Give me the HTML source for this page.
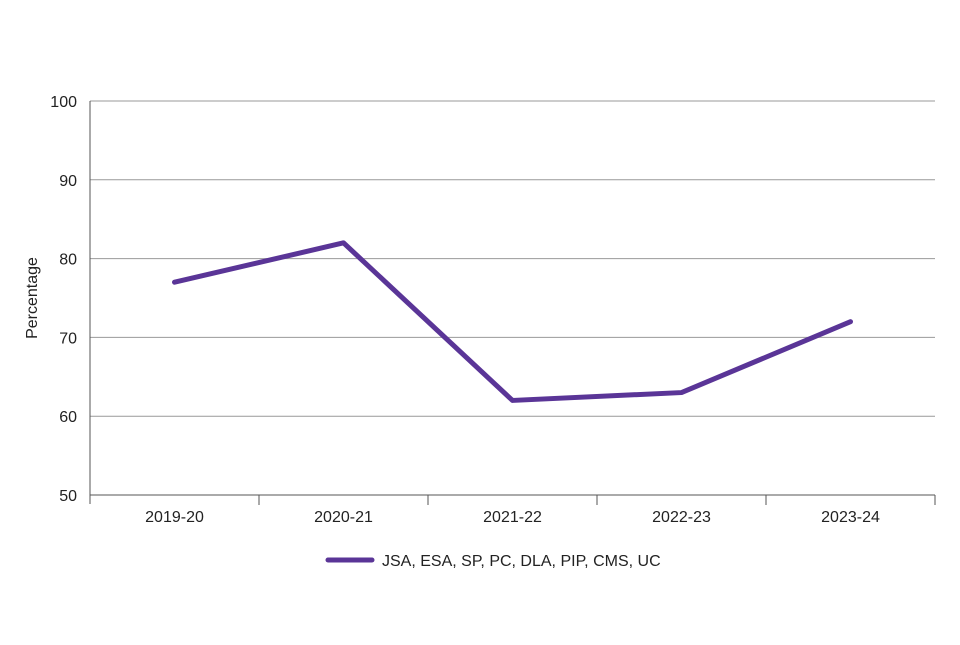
<!DOCTYPE html>
<html><head><meta charset="utf-8"><style>
html,body{margin:0;padding:0;background:#fff;}
svg text{font-family:"Liberation Sans",sans-serif;fill:#222;}
</style></head><body>
<svg id="chart" width="960" height="640" xmlns="http://www.w3.org/2000/svg">
<g id="grid"></g>
<g id="axes"></g>
<g id="series"></g>
<text transform="translate(37,298) rotate(-90)" text-anchor="middle" font-size="16">Percentage</text>
<g>
<line x1="328" y1="560" x2="372" y2="560" stroke="#5a3597" stroke-width="5" stroke-linecap="round"/>
<text x="382" y="566" font-size="16">JSA, ESA, SP, PC, DLA, PIP, CMS, UC</text>
</g>
</svg>
<script>
const categories=["2019-20","2020-21","2021-22","2022-23","2023-24"];
const values=[77,82,62,63,72];
const yTicks=[50,60,70,80,90,100];
const NS="http://www.w3.org/2000/svg";
const L=90,R=935,T=101,B=495,yMin=50,yMax=100;
const band=(R-L)/categories.length;
function x(i){return L+band*(i+0.5);}
function y(v){return B-(v-yMin)/(yMax-yMin)*(B-T);}
function mk(tag,attrs,parent){const e=document.createElementNS(NS,tag);for(const k in attrs)e.setAttribute(k,attrs[k]);parent.appendChild(e);return e;}
const grid=document.getElementById('grid'),axes=document.getElementById('axes'),ser=document.getElementById('series');
yTicks.forEach(t=>{
  if(t!==yMin){const g=mk('line',{x1:L,x2:R,y1:y(t),y2:y(t),stroke:'#999','stroke-width':1},grid);
  
  }
  const tx=mk('text',{x:L-13,y:y(t)+6,'text-anchor':'end','font-size':'16'},axes);
  tx.textContent=t;
  
  
});
const ya=mk('line',{x1:L,x2:L,y1:T,y2:B+9,stroke:'#555','stroke-width':1},axes);


const xa=mk('line',{x1:L,x2:R,y1:B,y2:B,stroke:'#555','stroke-width':1},axes);


for(let i=1;i<=categories.length;i++){
  const tk=mk('line',{x1:L+band*i,x2:L+band*i,y1:B,y2:B+10,stroke:'#555','stroke-width':1},axes);
  
  
}
categories.forEach((c,i)=>{
  const tx=mk('text',{x:x(i),y:B+27,'text-anchor':'middle','font-size':'16'},axes);
  tx.textContent=c;
  
  
});
const pts=values.map((v,i)=>x(i)+','+y(v)).join(' ');
const pl=mk('polyline',{points:pts,fill:'none',stroke:'#5a3597','stroke-width':5,'stroke-linejoin':'round','stroke-linecap':'round'},ser);


</script>
</body></html>
